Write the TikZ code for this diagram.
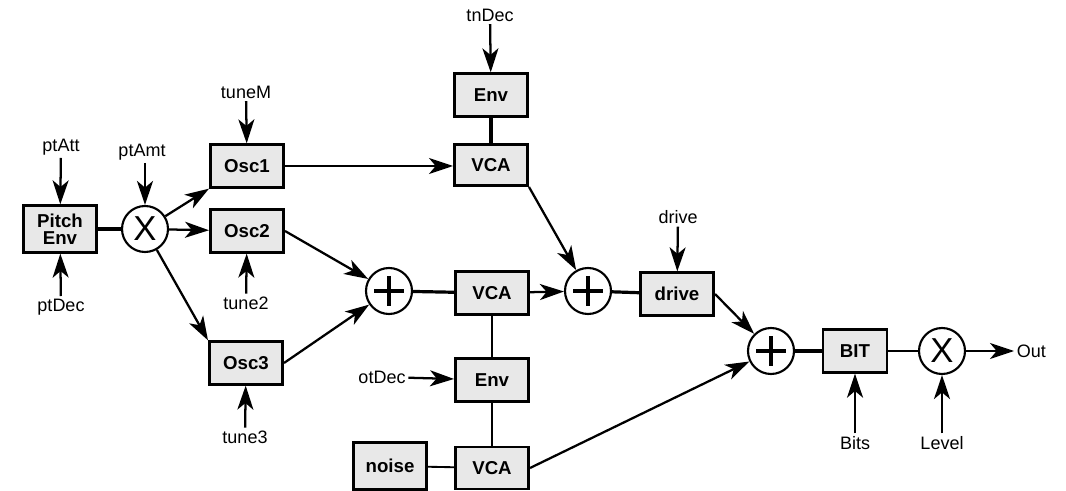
\documentclass[tikz,border=0pt]{standalone}
\usepackage{fontspec}
\setmainfont{Liberation Sans}
\usetikzlibrary{arrows.meta}
\begin{document}
\begin{tikzpicture}[x=0.75pt,y=-0.75pt,
  blk/.style={draw, line width=2pt, fill=gray!18, inner sep=0pt, minimum width=55pt, minimum height=32pt, font=\fontsize{14}{15}\selectfont\bfseries, align=center},
  lbl/.style={inner sep=2pt, font=\fontsize{13.5}{15}\selectfont},
  mult/.style={draw, circle, line width=1.6pt, fill=white, minimum size=34.5pt, inner sep=0pt, font=\fontsize{26}{26}\selectfont},
  summ/.style={draw, circle, line width=1.6pt, fill=white, minimum size=34.5pt, inner sep=0pt,
     path picture={\draw[line width=3.2pt] (path picture bounding box.center) +(-15,0) -- +(15,0) +(0,-15) -- +(0,15);}},
  arr/.style={line width=1.7pt, -{Stealth[length=18pt,width=12pt,inset=5pt]}},
  thk/.style={line width=2.4pt},
  thn/.style={line width=1.4pt}
]
\useasboundingbox (0,0) rectangle (1066,491);
% blocks
\node[blk, minimum height=35pt] (penv) at (60,229) {Pitch\\[-2pt]Env};
\node[mult] (x1) at (145,229) {X};
\node[blk] (osc1) at (247,166) {Osc1};
\node[blk] (osc2) at (247,231) {Osc2};
\node[blk] (osc3) at (246,363) {Osc3};
\node[blk] (env1) at (491,95) {Env};
\node[blk, minimum height=31pt] (vca1) at (491,165) {VCA};
\node[summ] (p1) at (389,291) {};
\node[blk] (vca2) at (492,293) {VCA};
\node[summ] (p2) at (588,291) {};
\node[blk] (env2) at (492,380) {Env};
\node[blk, minimum height=35pt] (noise) at (390,466) {noise};
\node[blk, minimum height=31.5pt] (vca3) at (492,468) {VCA};
\node[blk] (drive) at (677,294) {drive};
\node[summ] (p3) at (771,351) {};
\node[blk, minimum width=48pt] (bit) at (855,351) {BIT};
\node[mult] (x2) at (942,351) {X};
% labels
\node[lbl] (ptatt) at (61,147) {ptAtt};
\node[lbl] (ptdec) at (61,307) {ptDec};
\node[lbl] (ptamt) at (142,152) {ptAmt};
\node[lbl] (tunem) at (246,92) {tuneM};
\node[lbl] (tune2) at (246,303) {tune2};
\node[lbl] (tune3) at (245,437) {tune3};
\node[lbl] (tndec) at (490,15) {tnDec};
\node[lbl] (otdec) at (382,377) {otDec};
\node[lbl] (drivel) at (678,217) {drive};
\node[lbl] (bits) at (855,443) {Bits};
\node[lbl] (level) at (942,443) {Level};
\node[lbl, anchor=west] (out) at (1014,351) {Out};
% input arrows
\draw[arr] (ptatt) -- (penv);
\draw[arr] (ptdec) -- (penv);
\draw[arr] (ptamt.south -| x1) -- (x1);
\draw[arr] (tunem) -- (osc1);
\draw[arr] (tune2) -- (osc2);
\draw[arr] (tune3) -- (osc3);
\draw[arr] (tndec) -- (env1);
\draw[arr] (otdec) -- (env2);
\draw[arr] (drivel) -- (drive);
\draw[arr] (bits) -- (bit);
\draw[arr] (level) -- (x2);
% signal flow
\draw[thk] (penv) -- (x1);
\draw[arr] (x1) -- (osc1.south west);
\draw[arr] (x1) -- (osc2);
\draw[arr] (x1) -- (osc3.north west);
\draw[arr] (osc1) -- (osc1 -| vca1.west);
\draw[arr] (osc2.east) -- (p1);
\draw[arr] (osc3.east) -- (p1);
\draw[thk] (p1) -- (vca2);
\draw[arr] (vca2) -- (p2);
\draw[arr] (vca1.south east) -- (p2);
\draw[thk] (env1) -- (vca1);
\draw[thn] (vca2) -- (env2);
\draw[thn] (env2) -- (vca3);
\draw[thn] (noise) -- (vca3);
\draw[thk] (p2) -- (drive);
\draw[arr] (drive.east) -- (p3);
\draw[arr] (vca3.east) -- (p3);
\draw[thk] (p3) -- (bit);
\draw[thn] (bit) -- (x2);
\draw[arr] (x2) -- (out);
\end{tikzpicture}
\end{document}
